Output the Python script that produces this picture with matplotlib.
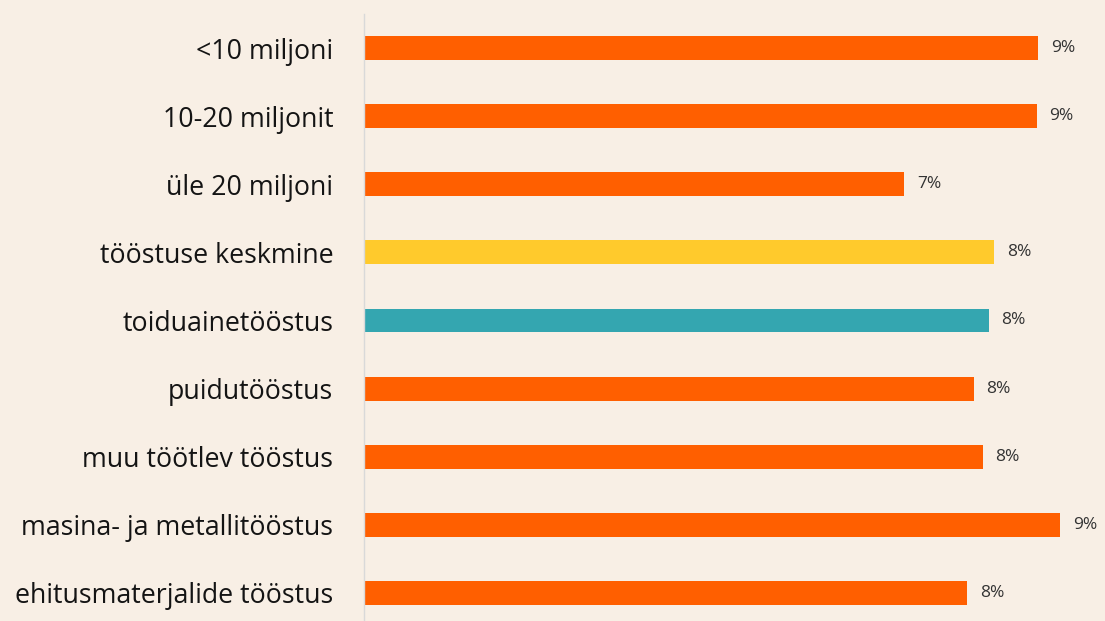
import matplotlib.pyplot as plt
import numpy as np

# data
categories = ["<10 miljoni", "10-20 miljonit", "üle 20 miljoni", "tööstuse keskmine",
              "toiduainetööstus", "puidutööstus", "muu töötlev tööstus",
              "masina- ja metallitööstus", "ehitusmaterjalide tööstus"]
values = [8.99, 8.97, 7.2, 8.4, 8.33, 8.13, 8.25, 9.28, 8.04]
labels = ["9%", "9%", "7%", "8%", "8%", "8%", "8%", "9%", "8%"]

orange = "#FF5F00"
colors = [orange, orange, orange, "#FFCA2C", "#34A6B0", orange, orange, orange, orange]
bg = "#F8EFE5"

plt.rcParams['font.family'] = ['Open Sans', 'DejaVu Sans']

fig = plt.figure(figsize=(11.05, 6.21), dpi=100, facecolor=bg)
W, H = 1105, 621
ax = fig.add_axes([364 / W, -6 / H, (W - 364) / W, 613 / H])
ax.set_facecolor(bg)

y = np.arange(len(categories))
ax.barh(y, values, height=0.35, color=colors)
for yi, v, lab in zip(y, values, labels):
    ax.text(v + 0.17, yi, lab, va='center', ha='left', fontsize=12.5, color="#333333")

ax.set_ylim(len(categories) - 0.5, -0.5)
ax.set_xlim(0, (W - 364) / 75)
ax.set_yticks(y)
ax.set_yticklabels(categories, fontsize=19.3, color="#141414")
ax.tick_params(axis='y', length=0, pad=22)
ax.set_xticks([])
for s in ['top', 'right', 'bottom']:
    ax.spines[s].set_visible(False)
ax.spines['left'].set_color("#D9D9D9")
ax.spines['left'].set_linewidth(1)

fig.savefig("out.png", dpi=100, facecolor=bg)
